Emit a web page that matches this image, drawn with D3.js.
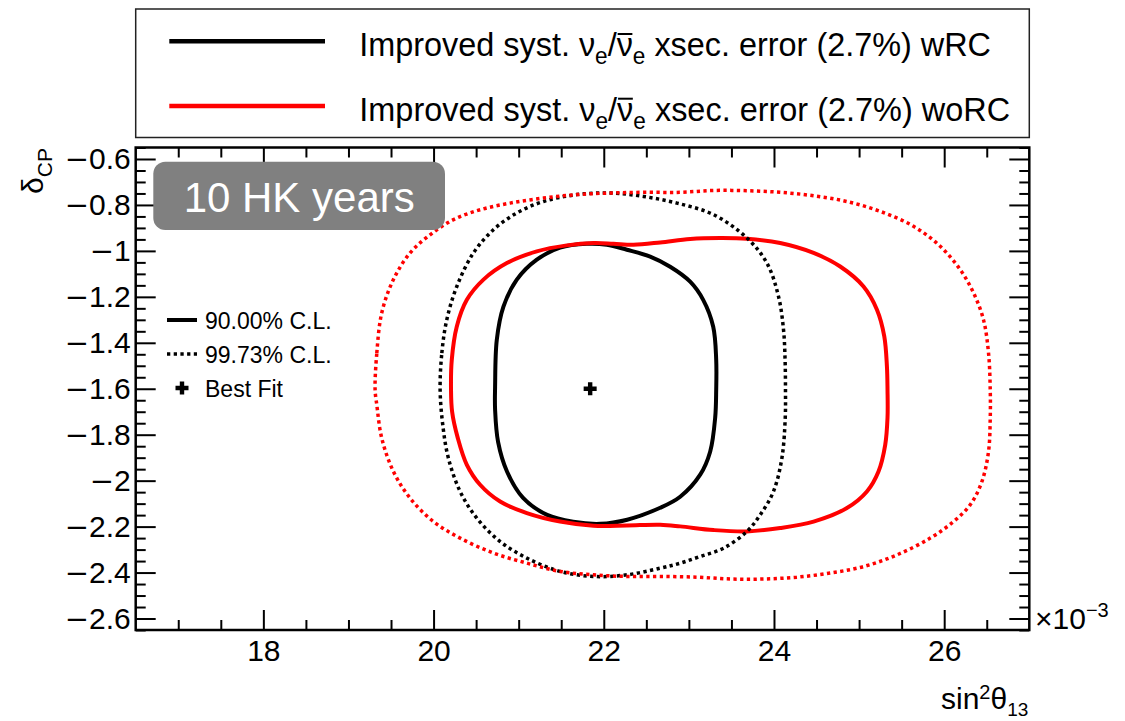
<!DOCTYPE html>
<html>
<head>
<meta charset="utf-8">
<script src="https://cdn.jsdelivr.net/npm/d3@7"></script>
<style>
  html, body { margin: 0; padding: 0; background: #fff; }
  svg { display: block; font-family: "Liberation Sans", Arial, Helvetica, sans-serif; }
</style>
</head>
<body>
<svg id="chart" width="1125" height="721"></svg>
<script>
// sin^2(theta13) is given in units of 1e-3, delta_CP in radians.
const xMajorTicks = [18, 20, 22, 24, 26];
const xTickLabels = ["18", "20", "22", "24", "26"];
const yMajorTicks = [-2.6, -2.4, -2.2, -2.0, -1.8, -1.6, -1.4, -1.2, -1.0, -0.8, -0.6];
const yTickLabels = ["\u22122.6", "\u22122.4", "\u22122.2", "\u22122", "\u22121.8", "\u22121.6",
                     "\u22121.4", "\u22121.2", "\u22121", "\u22120.8", "\u22120.6"];

// 90% C.L. contour, with reactor constraint
const wrc90X = [20.723, 20.743, 20.821, 20.978, 21.213, 21.487, 21.801, 22.036, 22.271, 22.545,
                22.780, 23.015, 23.168, 23.286, 23.321, 23.321, 23.309, 23.250, 23.133, 22.898,
                22.663, 22.275, 21.957, 21.640, 21.334, 21.052, 20.864, 20.758, 20.723];
const wrc90Y = [-1.591, -1.387, -1.243, -1.125, -1.038, -0.986, -0.969, -0.973, -0.995, -1.025,
                -1.069, -1.134, -1.213, -1.330, -1.474, -1.604, -1.726, -1.874, -1.974, -2.070,
                -2.118, -2.170, -2.188, -2.179, -2.149, -2.075, -1.961, -1.831, -1.691];

// 90% C.L. contour, without reactor constraint
const worc90X = [20.205, 20.214, 20.273, 20.391, 20.586, 20.861, 21.213, 21.566, 21.879, 22.114,
                 22.349, 22.663, 23.015, 23.368, 23.682, 24.073, 24.465, 24.778, 25.052, 25.210,
                 25.296, 25.327, 25.334, 25.334, 25.307, 25.228, 25.092, 24.857, 24.465, 24.073,
                 23.682, 23.289, 22.898, 22.663, 22.271, 21.879, 21.487, 21.096, 20.782, 20.547,
                 20.391, 20.285, 20.218];
const worc90Y = [-1.600, -1.474, -1.329, -1.213, -1.125, -1.053, -1.002, -0.976, -0.966, -0.969,
                 -0.973, -0.963, -0.948, -0.944, -0.947, -0.966, -1.009, -1.068, -1.155, -1.256,
                 -1.372, -1.503, -1.604, -1.726, -1.844, -1.960, -2.047, -2.119, -2.178, -2.206,
                 -2.221, -2.215, -2.199, -2.192, -2.195, -2.196, -2.178, -2.141, -2.091, -2.018,
                 -1.931, -1.815, -1.700];

// 99.73% C.L. contour, with reactor constraint
const wrc997X = [20.077, 20.097, 20.155, 20.273, 20.468, 20.703, 20.978, 21.291, 21.683, 22.075,
                 22.466, 22.859, 23.289, 23.682, 23.917, 24.053, 24.112, 24.130, 24.135, 24.132,
                 24.093, 23.994, 23.838, 23.682, 23.407, 23.133, 22.898, 22.663, 22.271, 21.879,
                 21.487, 21.096, 20.782, 20.508, 20.312, 20.174, 20.108];
const wrc997Y = [-1.604, -1.445, -1.300, -1.155, -1.009, -0.908, -0.835, -0.785, -0.755, -0.748,
                 -0.763, -0.792, -0.842, -0.944, -1.053, -1.198, -1.343, -1.470, -1.604, -1.728,
                 -1.902, -2.047, -2.149, -2.221, -2.294, -2.330, -2.359, -2.381, -2.410, -2.417,
                 -2.395, -2.337, -2.265, -2.163, -2.047, -1.902, -1.757];

// 99.73% C.L. contour, without reactor constraint
const worc997X = [19.313, 19.333, 19.391, 19.528, 19.724, 19.959, 20.233, 20.547, 20.899, 21.291,
                  21.683, 22.075, 22.466, 22.898, 23.289, 23.682, 24.073, 24.465, 24.857, 25.248,
                  25.640, 25.953, 26.189, 26.345, 26.462, 26.521, 26.541, 26.541, 26.521, 26.443,
                  26.306, 26.110, 25.836, 25.445, 25.052, 24.661, 24.269, 23.877, 23.485, 23.094,
                  22.663, 22.271, 21.879, 21.487, 21.096, 20.703, 20.312, 19.998, 19.724, 19.528,
                  19.391, 19.333];
const worc997Y = [-1.604, -1.445, -1.270, -1.125, -1.009, -0.930, -0.864, -0.821, -0.792, -0.770,
                  -0.755, -0.748, -0.745, -0.745, -0.737, -0.738, -0.745, -0.760, -0.785, -0.828,
                  -0.893, -0.980, -1.082, -1.183, -1.300, -1.445, -1.604, -1.728, -1.873, -2.004,
                  -2.105, -2.178, -2.250, -2.323, -2.374, -2.402, -2.420, -2.428, -2.428, -2.420,
                  -2.417, -2.417, -2.410, -2.395, -2.359, -2.315, -2.250, -2.178, -2.076, -1.960,
                  -1.815, -1.670];

const bestFitX = [21.84];
const bestFitY = [-1.60];

const seriesNames = ["wRC", "woRC"];
const seriesColors = ["#000000", "#ff0000"];

// ---------------------------------------------------------------------------
const svg = d3.select("#chart");
const frame = { left: 135.7, right: 1029.3, top: 147.5, bottom: 630 };

const x = d3.scaleLinear().domain([16.5, 27]).range([frame.left, frame.right]);
const y = d3.scaleLinear().domain([-2.65, -0.55]).range([frame.bottom, frame.top]);

const xMinor = d3.range(17, 27, 0.5).filter(v => !xMajorTicks.includes(v));
const yMinor = d3.range(-2.65, -0.549, 0.05).map(v => +v.toFixed(2))
  .filter(v => !yMajorTicks.some(m => Math.abs(m - v) < 1e-6));

const labelFont = 30;

function styleAxis(g) {
  g.select(".domain").remove();
  g.selectAll(".tick line").attr("stroke", "#000").attr("stroke-width", 2);
  g.selectAll(".tick text").attr("fill", "#000").attr("font-size", labelFont)
    .attr("font-family", "\"Liberation Sans\", Arial, Helvetica, sans-serif");
}

// Axes: major ticks point inward, minor ticks are half as long
svg.append("g").attr("transform", `translate(0,${frame.bottom})`)
  .call(d3.axisBottom(x).tickValues(xMajorTicks).tickSizeInner(-20).tickSizeOuter(0)
    .tickPadding(10).tickFormat((d, i) => xTickLabels[i]))
  .call(styleAxis);
svg.append("g").attr("transform", `translate(0,${frame.bottom})`)
  .call(d3.axisBottom(x).tickValues(xMinor).tickSizeInner(-10).tickSizeOuter(0).tickFormat(""))
  .call(styleAxis);
svg.append("g").attr("transform", `translate(0,${frame.top})`)
  .call(d3.axisTop(x).tickValues(xMajorTicks).tickSizeInner(-20).tickSizeOuter(0).tickFormat(""))
  .call(styleAxis);
svg.append("g").attr("transform", `translate(0,${frame.top})`)
  .call(d3.axisTop(x).tickValues(xMinor).tickSizeInner(-10).tickSizeOuter(0).tickFormat(""))
  .call(styleAxis);

const yAxisG = svg.append("g").attr("transform", `translate(${frame.left},0)`)
  .call(d3.axisLeft(y).tickValues(yMajorTicks).tickSizeInner(-20).tickSizeOuter(0)
    .tickPadding(5).tickFormat((d, i) => yTickLabels[i]))
  .call(styleAxis);
// draw the leading minus with a wider glyph
yAxisG.selectAll(".tick text").each(function () {
  const el = d3.select(this);
  const s = el.text();
  if (s.startsWith("\u2212")) {
    el.text(null);
    el.append("tspan").attr("font-family", "\"DejaVu Sans\", sans-serif")
      .attr("font-size", 29).text("\u2212");
    el.append("tspan").text(s.slice(1));
  }
});
svg.append("g").attr("transform", `translate(${frame.left},0)`)
  .call(d3.axisLeft(y).tickValues(yMinor).tickSizeInner(-10).tickSizeOuter(0).tickFormat(""))
  .call(styleAxis);
svg.append("g").attr("transform", `translate(${frame.right},0)`)
  .call(d3.axisRight(y).tickValues(yMajorTicks).tickSizeInner(-20).tickSizeOuter(0).tickFormat(""))
  .call(styleAxis);
svg.append("g").attr("transform", `translate(${frame.right},0)`)
  .call(d3.axisRight(y).tickValues(yMinor).tickSizeInner(-10).tickSizeOuter(0).tickFormat(""))
  .call(styleAxis);

// Contours
const contourLine = d3.line()
  .x(d => x(d[0])).y(d => y(d[1]))
  .curve(d3.curveCatmullRomClosed.alpha(0.5));

const zipXY = (xs, ys) => xs.map((v, i) => [v, ys[i]]);
const dotted = "3.3,3.4";

const contours = [
  { pts: zipXY(wrc90X, wrc90Y), color: seriesColors[0], width: 4, dash: null },
  { pts: zipXY(worc90X, worc90Y), color: seriesColors[1], width: 4, dash: null },
  { pts: zipXY(wrc997X, wrc997Y), color: seriesColors[0], width: 3.5, dash: dotted },
  { pts: zipXY(worc997X, worc997Y), color: seriesColors[1], width: 3.5, dash: dotted }
];

svg.append("g").selectAll("path").data(contours).join("path")
  .attr("d", d => contourLine(d.pts))
  .attr("fill", "none")
  .attr("stroke", d => d.color)
  .attr("stroke-width", d => d.width)
  .attr("stroke-dasharray", d => d.dash)
  .attr("stroke-linejoin", "round");

// Thick plus marker
function plusPath(cx, cy, arm, half) {
  return `M${cx - half},${cy - arm}H${cx + half}V${cy - half}H${cx + arm}V${cy + half}` +
         `H${cx + half}V${cy + arm}H${cx - half}V${cy + half}H${cx - arm}V${cy - half}H${cx - half}Z`;
}
svg.append("g").selectAll("path").data(bestFitX.map((v, i) => [v, bestFitY[i]])).join("path")
  .attr("d", d => plusPath(x(d[0]), y(d[1]), 6.5, 2.2))
  .attr("fill", "#000");

// Frame
svg.append("rect")
  .attr("x", frame.left).attr("y", frame.top)
  .attr("width", frame.right - frame.left).attr("height", frame.bottom - frame.top)
  .attr("fill", "none").attr("stroke", "#000").attr("stroke-width", 2.5);

// Exposure label
svg.append("rect")
  .attr("x", 153.3).attr("y", 161.7).attr("width", 291.7).attr("height", 68.3)
  .attr("rx", 12).attr("ry", 12).attr("fill", "#808080");
svg.append("text")
  .attr("x", 299.2).attr("y", 212.3).attr("text-anchor", "middle")
  .attr("font-size", 42).attr("fill", "#fff")
  .text("10 HK years");

// Confidence-level legend inside the frame
const clLegend = svg.append("g");
clLegend.append("line").attr("x1", 167).attr("x2", 197).attr("y1", 320).attr("y2", 320)
  .attr("stroke", "#000").attr("stroke-width", 4);
clLegend.append("line").attr("x1", 167).attr("x2", 197).attr("y1", 354).attr("y2", 354)
  .attr("stroke", "#000").attr("stroke-width", 3.5).attr("stroke-dasharray", dotted);
clLegend.append("path").attr("d", plusPath(182, 388, 6.5, 2.2)).attr("fill", "#000");
[["90.00% C.L.", 320], ["99.73% C.L.", 354], ["Best Fit", 388]].forEach(([t, yy]) => {
  clLegend.append("text").attr("x", 205).attr("y", yy + 8.5)
    .attr("font-size", 23).attr("fill", "#000").text(t);
});

// Series legend above the frame
svg.append("rect")
  .attr("x", 135.7).attr("y", 9).attr("width", 1029.3 - 135.7).attr("height", 128.5)
  .attr("fill", "#fff").attr("stroke", "#222").attr("stroke-width", 1.5);

const legendRows = [
  { name: seriesNames[0], color: seriesColors[0], lineY: 41.3, base: 56, width: 632 },
  { name: seriesNames[1], color: seriesColors[1], lineY: 106, base: 120.7, width: 651 }
];
legendRows.forEach(row => {
  svg.append("line").attr("x1", 169.3).attr("x2", 325).attr("y1", row.lineY).attr("y2", row.lineY)
    .attr("stroke", row.color).attr("stroke-width", 4.5);
  const g = svg.append("g").attr("transform", `translate(359.3,${row.base})`);
  const t = g.append("text").attr("x", 0).attr("y", 0).attr("font-size", 33).attr("fill", "#000");
  t.append("tspan").text("Improved syst. \u03BD");
  t.append("tspan").attr("font-size", 23).attr("dy", 8).text("e");
  t.append("tspan").attr("dy", -8).text("/\u03BD");
  t.append("tspan").attr("font-size", 23).attr("dy", 8).text("e");
  t.append("tspan").attr("dy", -8).text(" xsec. error (2.7%) " + row.name);
  const node = t.node();
  const w = node.getComputedTextLength();
  const sx = row.width / w;
  g.attr("transform", `translate(359.3,${row.base}) scale(${sx},1)`);
  // bar over the antineutrino symbol (character index 18 is the second nu)
  const s = node.getStartPositionOfChar(18);
  const e = node.getEndPositionOfChar(18);
  g.append("line").attr("x1", s.x + 1).attr("x2", e.x - 0.5).attr("y1", -22).attr("y2", -22)
    .attr("stroke", "#000").attr("stroke-width", 2);
});

// Axis titles
const xt = svg.append("text").attr("x", 1028.3).attr("y", 709).attr("text-anchor", "end")
  .attr("font-size", 30).attr("fill", "#000");
xt.append("tspan").text("sin");
xt.append("tspan").attr("font-size", 20).attr("dy", -10).text("2");
xt.append("tspan").attr("dy", 10).text("\u03B8");
xt.append("tspan").attr("font-size", 19).attr("dy", 7).text("13");

const yt = svg.append("text").attr("transform", "translate(43,148) rotate(-90)")
  .attr("text-anchor", "end").attr("font-size", 30).attr("fill", "#000");
yt.append("tspan").text("\u03B4");
yt.append("tspan").attr("font-size", 21).attr("dy", 9).text("CP");

// Exponent of the x axis
const ex = svg.append("text").attr("x", 1035).attr("y", 629.3)
  .attr("font-size", 30).attr("fill", "#000");
ex.append("tspan").text("\u00D710");
ex.append("tspan").attr("font-size", 20).attr("dy", -12.5).text("\u22123");
</script>
</body>
</html>
